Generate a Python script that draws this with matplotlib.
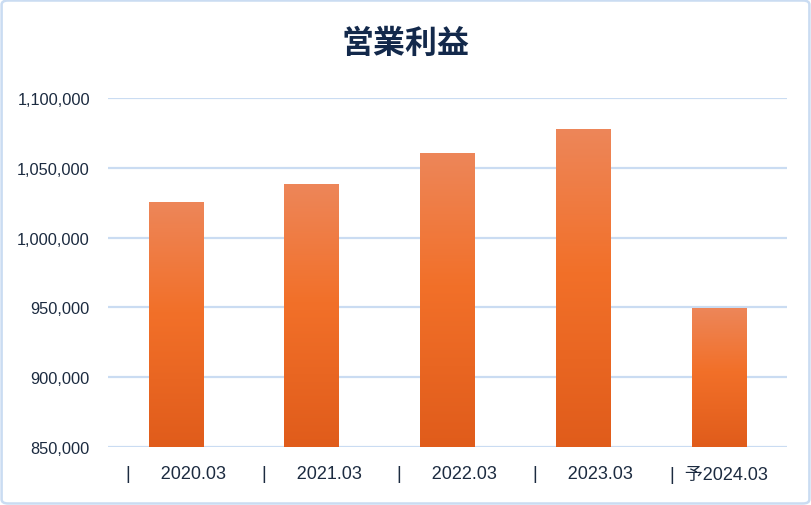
import numpy as np
import matplotlib.pyplot as plt
from matplotlib.colors import LinearSegmentedColormap
from matplotlib.patches import FancyBboxPatch
from matplotlib.ticker import FuncFormatter

plt.rcParams['font.family'] = ['Liberation Sans', 'Noto Sans CJK JP', 'DejaVu Sans']

# data
periods = ['2020.03', '2021.03', '2022.03', '2023.03', '予2024.03']
profit = [1025500, 1037700, 1060600, 1077800, 949500]
title = '営業利益'

text_col = '#1c2b40'
grid_col = '#cadcf2'
# bar gradient: light at top, bright in the middle, darker at the bottom
grad = LinearSegmentedColormap.from_list(
    'bar', [(0.0, '#e05c1b'), (0.55, '#f27029'), (1.0, '#ed8659')])

fig = plt.figure(figsize=(8.11, 5.06), dpi=100)
ax = fig.add_axes([0.1332, 0.1146, 0.8369, 0.6897])

x = np.arange(len(periods))
ymin, ymax = 850000, 1100000
bars = ax.bar(x, profit, width=0.4, color='none', zorder=3)

g = np.linspace(0, 1, 256).reshape(-1, 1)
for b in bars:
    x0, w, top = b.get_x(), b.get_width(), b.get_height()
    ax.imshow(g, cmap=grad, origin='lower', aspect='auto',
              extent=[x0, x0 + w, ymin, top], zorder=3)

ax.set_xlim(-0.5, len(periods) - 0.5)
ax.set_ylim(ymin, ymax)
ax.set_yticks(np.arange(ymin, ymax + 1, 50000))
ax.yaxis.set_major_formatter(FuncFormatter(lambda v, p: f'{int(v):,}'))
ax.grid(axis='y', color=grid_col, linewidth=1.6, zorder=0)
ax.set_axisbelow(True)

ax.set_xticks(x)
ax.set_xticklabels(['|      ' + p if not p.startswith('予') else '|  ' + p
                    for p in periods])
for s in ax.spines.values():
    s.set_visible(False)
ax.tick_params(axis='y', length=0, pad=13, labelsize=11.8, labelcolor=text_col)
ax.tick_params(axis='x', length=0, pad=13, labelsize=13, labelcolor=text_col)

fig.text(0.5, 0.913, title, ha='center', va='center', fontsize=23,
         fontweight='bold', color='#13294b',
         family=['Noto Sans CJK JP', 'DejaVu Sans'])

frame = FancyBboxPatch((0.002, 0.003), 0.996, 0.994,
                       boxstyle='round,pad=0,rounding_size=0.008',
                       transform=fig.transFigure, fill=False,
                       edgecolor=grid_col, linewidth=1.8)
fig.patches.append(frame)

fig.savefig('out.png', dpi=100, facecolor='white')
